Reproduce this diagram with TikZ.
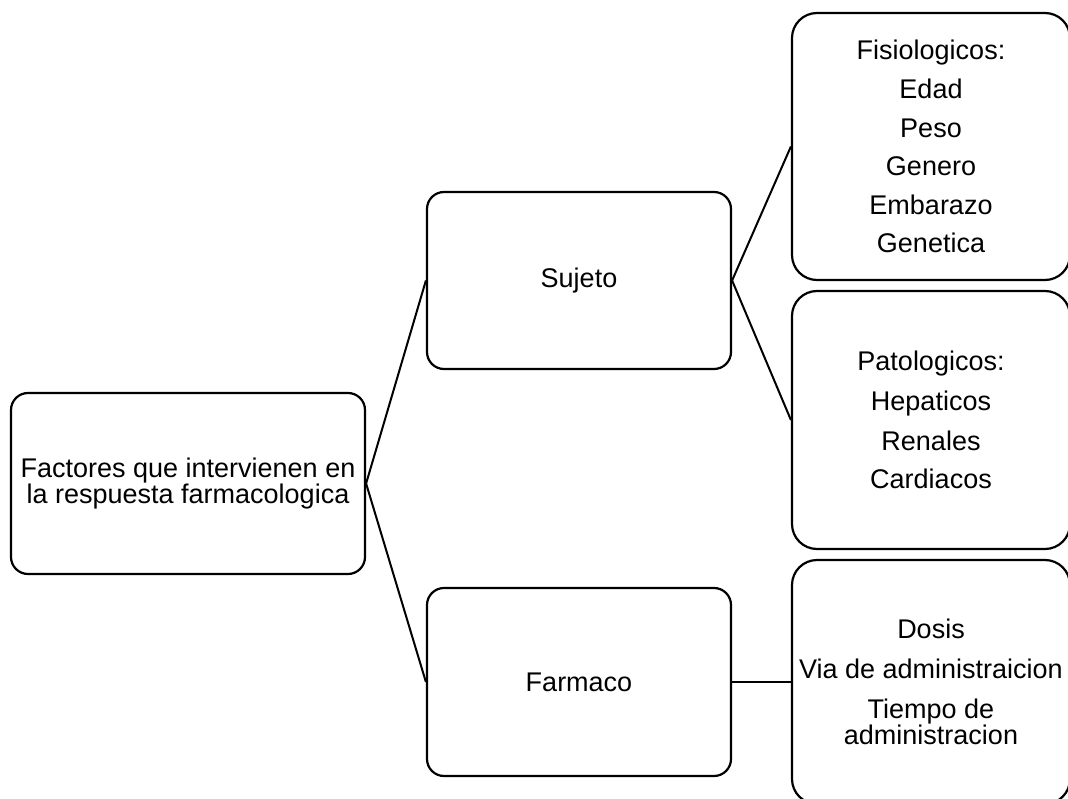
\documentclass[tikz,border=0pt]{standalone}
\usepackage{fontspec}
\setmainfont{Liberation Sans}
\begin{document}
\begin{tikzpicture}[x=1pt,y=-1pt,
  box/.style={draw=black, line width=2.2pt, rounded corners=17pt, inner sep=0pt,
    align=center, font=\fontsize{27}{25}\selectfont},
  listbox/.style={box, rounded corners=25pt},
  link/.style={draw=black, line width=2pt}]
\path[use as bounding box] (0,0) rectangle (1068,799);
\clip (0,0) rectangle (1068,799);

% first level
\node[box, minimum width=354pt, minimum height=181pt] (root) at (188,483.5)
  {Factores que intervienen en\\la respuesta farmacologica};

% second level
\node[box, minimum width=304pt, minimum height=177pt] (sujeto) at (579,280.5) {Sujeto};
\node[box, minimum width=304pt, minimum height=188pt] (farmaco) at (579,682) {Farmaco};

% third level
\node[listbox, minimum width=278pt, minimum height=267pt] (fisio) at (931,146.5)
  {Fisiologicos:\\[13.5pt]Edad\\[13.5pt]Peso\\[13.5pt]Genero\\[13.5pt]Embarazo\\[13.5pt]Genetica};
\node[listbox, minimum width=278pt, minimum height=258pt] (pato) at (931,420)
  {Patologicos:\\[13.5pt]Hepaticos\\[13.5pt]Renales\\[13.5pt]Cardiacos};
\node[listbox, minimum width=278pt, minimum height=244pt] (dosis) at (931,682)
  {Dosis\\[15pt]Via de administraicion\\[15pt]Tiempo de\\administracion};

% connectors
\draw[link] (root.east) -- (sujeto.west);
\draw[link] (root.east) -- (farmaco.west);
\draw[link] (sujeto.east) -- (fisio.west);
\draw[link] (sujeto.east) -- (pato.west);
\draw[link] (farmaco.east) -- (dosis.west);
\end{tikzpicture}
\end{document}
